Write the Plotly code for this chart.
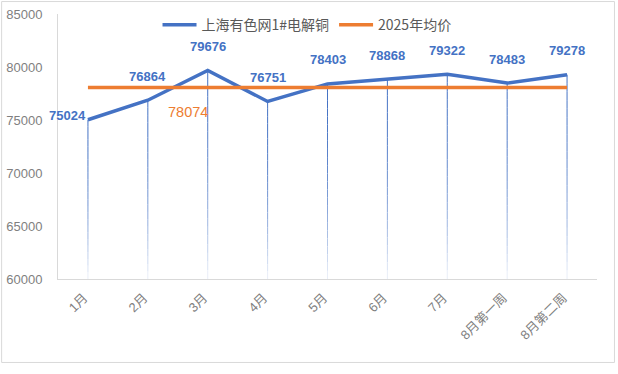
import plotly.graph_objects as go

categories = ["1月", "2月", "3月", "4月", "5月", "6月", "7月", "8月第一周", "8月第二周"]
copper_prices = [75024, 76864, 79676, 76751, 78403, 78868, 79322, 78483, 79278]
avg_2025 = 78074
y_ticks = [60000, 65000, 70000, 75000, 80000, 85000]

series_name = "上海有色网1#电解铜"
avg_name = "2025年均价"

BLUE = "#4472C4"
ORANGE = "#ED7D31"
GRAY = "#7F7F7F"
AXIS_MIN, AXIS_MAX = 60000, 85000

fig = go.Figure()

# drop lines with gradient fade (blue -> white)
def mix(c1, c2, t):
    a = [int(c1[i:i + 2], 16) for i in (1, 3, 5)]
    b = [int(c2[i:i + 2], 16) for i in (1, 3, 5)]
    return "rgb(%d,%d,%d)" % tuple(round(a[k] + (b[k] - a[k]) * t) for k in range(3))

NSEG = 24
for cat, v in zip(categories, copper_prices):
    for s in range(NSEG):
        ytop = v - (v - AXIS_MIN) * s / NSEG
        ybot = v - (v - AXIS_MIN) * (s + 1) / NSEG
        t = (s + 0.5) / NSEG
        fig.add_shape(type="line", xref="x", yref="y", x0=cat, x1=cat, y0=ytop, y1=ybot,
                      line=dict(color=mix(BLUE, "#FFFFFF", t ** 2 * 0.92), width=1), layer="below")

fig.add_trace(go.Scatter(x=categories, y=copper_prices, mode="lines", name=series_name,
                         line=dict(color=BLUE, width=3.5)))
fig.add_trace(go.Scatter(x=categories, y=[avg_2025] * len(categories), mode="lines", name=avg_name,
                         line=dict(color=ORANGE, width=3.5)))

annotations = []
for i, (cat, v) in enumerate(zip(categories, copper_prices)):
    if i == 0:
        annotations.append(dict(x=cat, y=v, text="<b>%d</b>" % v, showarrow=False, xanchor="right",
                                yanchor="middle", yshift=4, xshift=0,
                                font=dict(family="Liberation Sans", size=13, color=BLUE)))
    else:
        annotations.append(dict(x=cat, y=v, text="<b>%d</b>" % v, showarrow=False, xanchor="center",
                                yanchor="middle", yshift=24,
                                font=dict(family="Liberation Sans", size=13, color=BLUE)))
annotations.append(dict(x=categories[2], y=avg_2025, text=str(avg_2025), showarrow=False,
                        xanchor="center", yanchor="middle", xshift=-20, yshift=-25,
                        font=dict(family="Liberation Sans", size=14.5, color=ORANGE)))

# outer border
fig.add_shape(type="rect", xref="paper", yref="paper", x0=-0.1046, x1=1.0324, y0=-0.315, y1=1.047,
              line=dict(color="#D9D9D9", width=1), fillcolor="rgba(0,0,0,0)", layer="below")

fig.update_layout(
    width=618, height=374,
    margin=dict(l=58, r=21, t=14, b=95, autoexpand=False),
    paper_bgcolor="white", plot_bgcolor="white",
    showlegend=True,
    legend=dict(orientation="h", x=0.462, xanchor="center", y=0.958, yanchor="middle",
                font=dict(family="Noto Sans CJK SC", size=14, color="#595959"),
                bgcolor="rgba(0,0,0,0)", itemwidth=34, tracegroupgap=0),
    annotations=annotations,
    xaxis=dict(type="category", categoryarray=categories, tickangle=-45, showgrid=False,
               showline=True, linecolor="#D9D9D9", linewidth=1, ticks="", zeroline=False,
               automargin=False, ticklabelstandoff=5, ticklabelshift=-4,
               tickfont=dict(family="Liberation Sans, Noto Sans CJK SC", size=13, color=GRAY),
               range=[-0.5, len(categories) - 0.5]),
    yaxis=dict(range=[AXIS_MIN, AXIS_MAX], tickvals=y_ticks, ticktext=[str(t) for t in y_ticks],
               showgrid=False, showline=True, linecolor="#D9D9D9", linewidth=1, ticks="",
               zeroline=False, ticklabelstandoff=12, automargin=False,
               tickfont=dict(family="Liberation Sans", size=13, color=GRAY)),
)

fig.write_html("out.html", config={"displayModeBar": False},
               post_script="document.body.style.margin='0';")
